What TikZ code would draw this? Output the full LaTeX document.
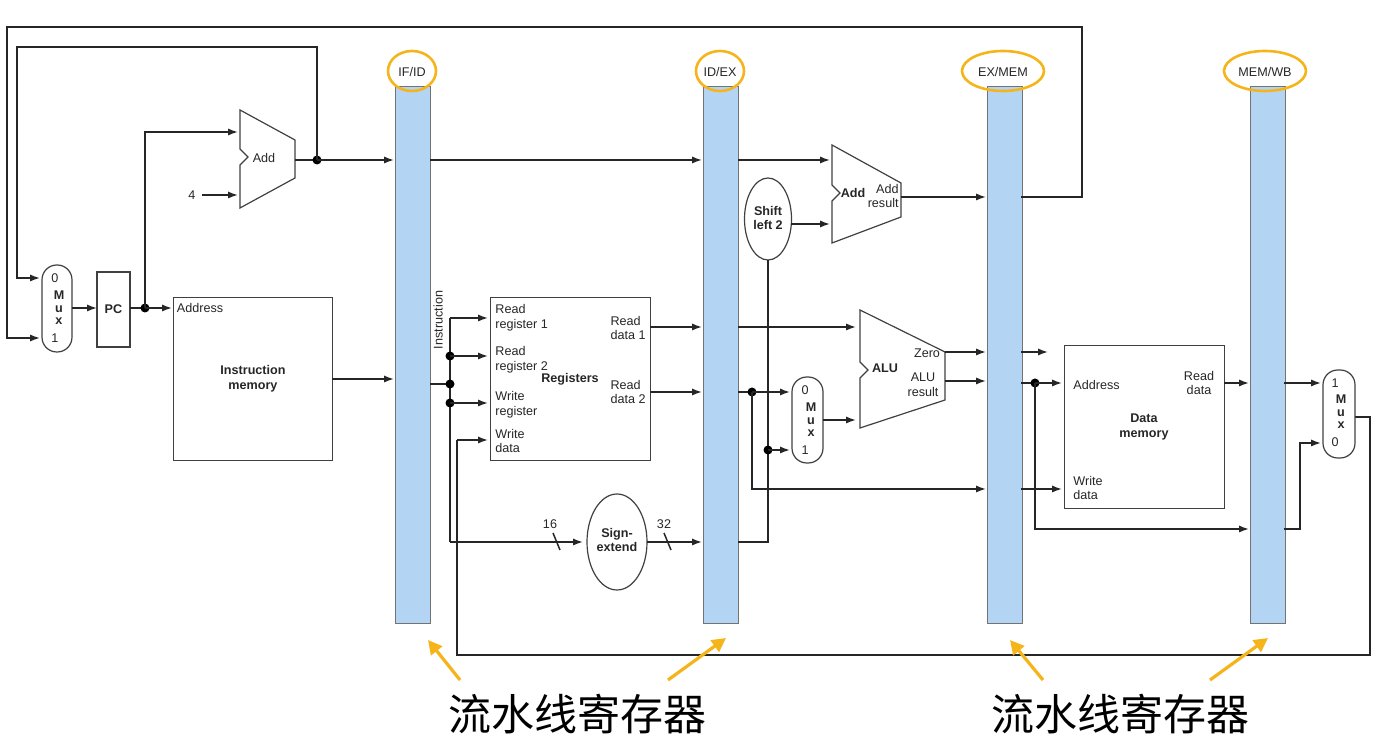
\documentclass[tikz,border=0pt]{standalone}
\usepackage{fontspec}
\setmainfont{Liberation Sans}
\newfontfamily\cjk{Noto Sans CJK SC}
\usetikzlibrary{arrows.meta,shapes.geometric}
\begin{document}
\begin{tikzpicture}[x=0.5pt,y=-0.5pt,
  w/.style={line width=0.75pt,draw=black!85},
  a/.style={w,-{Latex[length=5pt,width=3.6pt]}},
  dot/.style={circle,fill=black,inner sep=0pt,minimum size=4.5pt},
  bar/.style={draw=black!55,line width=0.6pt,fill=barc},
  lab/.style={font=\fontsize{6.3}{7.3}\selectfont,text=black!85,inner sep=0pt,align=left},
  blab/.style={lab,font=\fontsize{6.3}{7.3}\selectfont\bfseries,align=center},
  box/.style={draw=black!75,line width=0.6pt},
  ring/.style={draw=ora,line width=1.3pt},
  oarr/.style={draw=ora,line width=1.6pt,-{Triangle[length=7pt,width=7pt]}},
  mux/.style={draw=black!75,line width=0.6pt,rounded corners=7.4pt},
  zh/.style={font=\cjk\fontsize{21.5}{24}\selectfont,inner sep=0pt}]
\definecolor{barc}{HTML}{B3D4F3}
\definecolor{ora}{HTML}{F5B51A}
\useasboundingbox (0,0) rectangle (1377,747);
% pipeline bars
\foreach \n/\x in {ifid/395,idex/703,exmem/987,memwb/1250}{
  \node[bar,minimum width=17.5pt,minimum height=268.5pt,inner sep=0pt,anchor=north west] (\n) at (\x,86) {};
}
\node[lab] (t1) at (412,72) {IF/ID};
\node[lab] (t2) at (720,72) {ID/EX};
\node[lab] (t3) at (1003,72) {EX/MEM};
\node[lab] (t4) at (1265,72) {MEM/WB};
\draw[ring] (412,71) ellipse (24 and 20);
\draw[ring] (720,71) ellipse (24 and 20);
\draw[ring] (1003,71) ellipse (41 and 20);
\draw[ring] (1265,71) ellipse (41 and 20);
% mux 1, PC
\draw[mux] (42,265) rectangle (72,352);
\node[lab] at (55,278) {0};
\node[blab,align=center] at (59,308) {M\\[-1pt]u\\[-1pt]x};
\node[lab] at (55,338) {1};
\node[box,minimum width=16.5pt,minimum height=37.5pt,inner sep=0pt] (pc) at (113.5,309.5) {};
\node[blab] at (113.5,309) {PC};
\draw[a] (72,308) -- (97,308);
\draw[w] (130,308) -- (145,308);
\node[dot] (d1) at (145,308) {};
\draw[a] (145,308) -- (172,308);
\draw[a] (145,308) -- (145,132) -- (238,132);
% adder 1
\draw[box] (240,110) -- (295,140) -- (295,178) -- (240,208) -- (240,165) -- (248,157) -- (240,149) -- cycle;
\node[lab] at (264,158) {Add};
\node[lab] at (192,195) {4};
\draw[a] (202,195) -- (238,195);
\draw[w] (295,160) -- (317,160);
\node[dot] at (317,160) {};
\draw[a] (317,160) -- (394,160);
\draw[a] (317,160) -- (317,47) -- (17,47) -- (17,278) -- (40,278);
\draw[a] (1021,197) -- (1082,197) -- (1082,27) -- (7,27) -- (7,338) -- (40,338);
% instruction memory
\node[box,minimum width=79.5pt,minimum height=81.5pt,inner sep=0pt,anchor=north west] (im) at (173,297) {};
\node[lab] at (200,308) {Address};
\node[blab] at (253,379) {Instruction\\memory};
\draw[a] (332,379) -- (394,379);
% IF/ID right
\draw[a] (430,160) -- (702,160);
\node[lab,rotate=90] at (438,320) {Instruction};
\draw[w] (430,384) -- (450,384);
\draw[w] (450,318) -- (450,542);
\node[dot] at (450,384) {};
\node[dot] at (450,356) {};
\node[dot] at (450,403) {};
\draw[a] (450,318) -- (488,318);
\draw[a] (450,356) -- (488,356);
\draw[a] (450,403) -- (488,403);
\draw[a] (450,542) -- (583,542);
\draw[w] (553,533) -- (560,550);
\node[lab] at (550,524) {16};
% registers
\node[box,minimum width=80pt,minimum height=81.5pt,inner sep=0pt,anchor=north west] (reg) at (490,297) {};
\node[lab,anchor=west] at (495,318) {Read\\register 1};
\node[lab,anchor=west] at (495,360) {Read\\register 2};
\node[lab,anchor=west] at (495,405) {Write\\register};
\node[lab,anchor=west] at (495,441) {Write\\data};
\node[blab] at (570,379) {Registers};
\node[lab,anchor=east] at (646,328) {Read\\data 1};
\node[lab,anchor=east] at (646,392) {Read\\data 2};
\draw[a] (650,327) -- (702,327);
\draw[a] (650,392) -- (702,392);
% write-back path
\draw[w] (1355,417) -- (1370,417) -- (1370,655) -- (457,655) -- (457,440);
\draw[a] (457,440) -- (488,440);
% sign extend
\node[draw=black!75,line width=0.6pt,ellipse,minimum width=30pt,minimum height=48pt,inner sep=0pt] (se) at (617,542) {};
\node[blab] at (617,540) {Sign-\\extend};
\draw[a] (647,542) -- (702,542);
\draw[w] (664,533) -- (671,550);
\node[lab] at (664,524) {32};
% shift left 2
\node[draw=black!75,line width=0.6pt,ellipse,minimum width=23.5pt,minimum height=41pt,inner sep=0pt] (sl) at (768,219) {};
\node[blab] at (768,218) {Shift\\left 2};
\draw[a] (791,224) -- (830,224);
\draw[w] (738,542) -- (768,542) -- (768,260);
\node[dot] at (768,450) {};
\draw[a] (768,450) -- (790,450);
% adder 2
\draw[box] (832,145) -- (901,183) -- (901,217) -- (832,243) -- (832,201) -- (840,193) -- (832,185) -- cycle;
\node[blab] at (853,193) {Add};
\node[lab,align=right,anchor=east] at (899,196) {Add\\result};
\draw[a] (738,160) -- (830,160);
\draw[a] (901,197) -- (986,197);
% mux 2
\draw[mux] (792,377) rectangle (823,463);
\node[lab] at (805,390) {0};
\node[blab] at (811,420) {M\\[-1pt]u\\[-1pt]x};
\node[lab] at (805,450) {1};
\draw[w] (738,392) -- (752,392);
\node[dot] at (752,392) {};
\draw[a] (752,392) -- (790,392);
\draw[a] (752,392) -- (752,489) -- (986,489);
\draw[a] (823,420) -- (856,420);
\draw[a] (738,327) -- (856,327);
% ALU
\draw[box] (860,310) -- (945,352) -- (945,400) -- (860,428) -- (860,378) -- (868,370) -- (860,362) -- cycle;
\node[blab] at (885,368) {ALU};
\node[lab] at (927,353) {Zero};
\node[lab,align=center] at (923,385) {ALU\\result};
\draw[a] (945,352) -- (986,352);
\draw[a] (945,381) -- (986,381);
% EX/MEM right
\draw[a] (1021,352) -- (1048,352);
\draw[w] (1021,383) -- (1035,383);
\node[dot] at (1035,383) {};
\draw[a] (1035,383) -- (1062,383);
\draw[a] (1035,383) -- (1035,529) -- (1249,529);
\draw[a] (1021,489) -- (1062,489);
% data memory
\node[box,minimum width=80pt,minimum height=81.5pt,inner sep=0pt,anchor=north west] (dm) at (1064,345) {};
\node[lab,anchor=west] at (1073,385) {Address};
\node[lab,align=center] at (1199,383) {Read\\data};
\node[blab] at (1144,427) {Data\\memory};
\node[lab,anchor=west] at (1073,488) {Write\\data};
\draw[a] (1224,383) -- (1249,383);
% mux 3
\draw[mux] (1323,370) rectangle (1355,458);
\node[lab] at (1335,383) {1};
\node[blab] at (1341,412) {M\\[-1pt]u\\[-1pt]x};
\node[lab] at (1335,442) {0};
\draw[a] (1284,383) -- (1321,383);
\draw[a] (1284,529) -- (1300,529) -- (1300,443) -- (1321,443);
% annotations
\node[zh] (z1) at (577,714) {流水线寄存器};
\node[zh] (z2) at (1120,714) {流水线寄存器};
\draw[oarr] (460,680) -- (428,640);
\draw[oarr] (668,680) -- (726,638);
\draw[oarr] (1043,680) -- (1010,640);
\draw[oarr] (1210,680) -- (1268,638);
\end{tikzpicture}
\end{document}
